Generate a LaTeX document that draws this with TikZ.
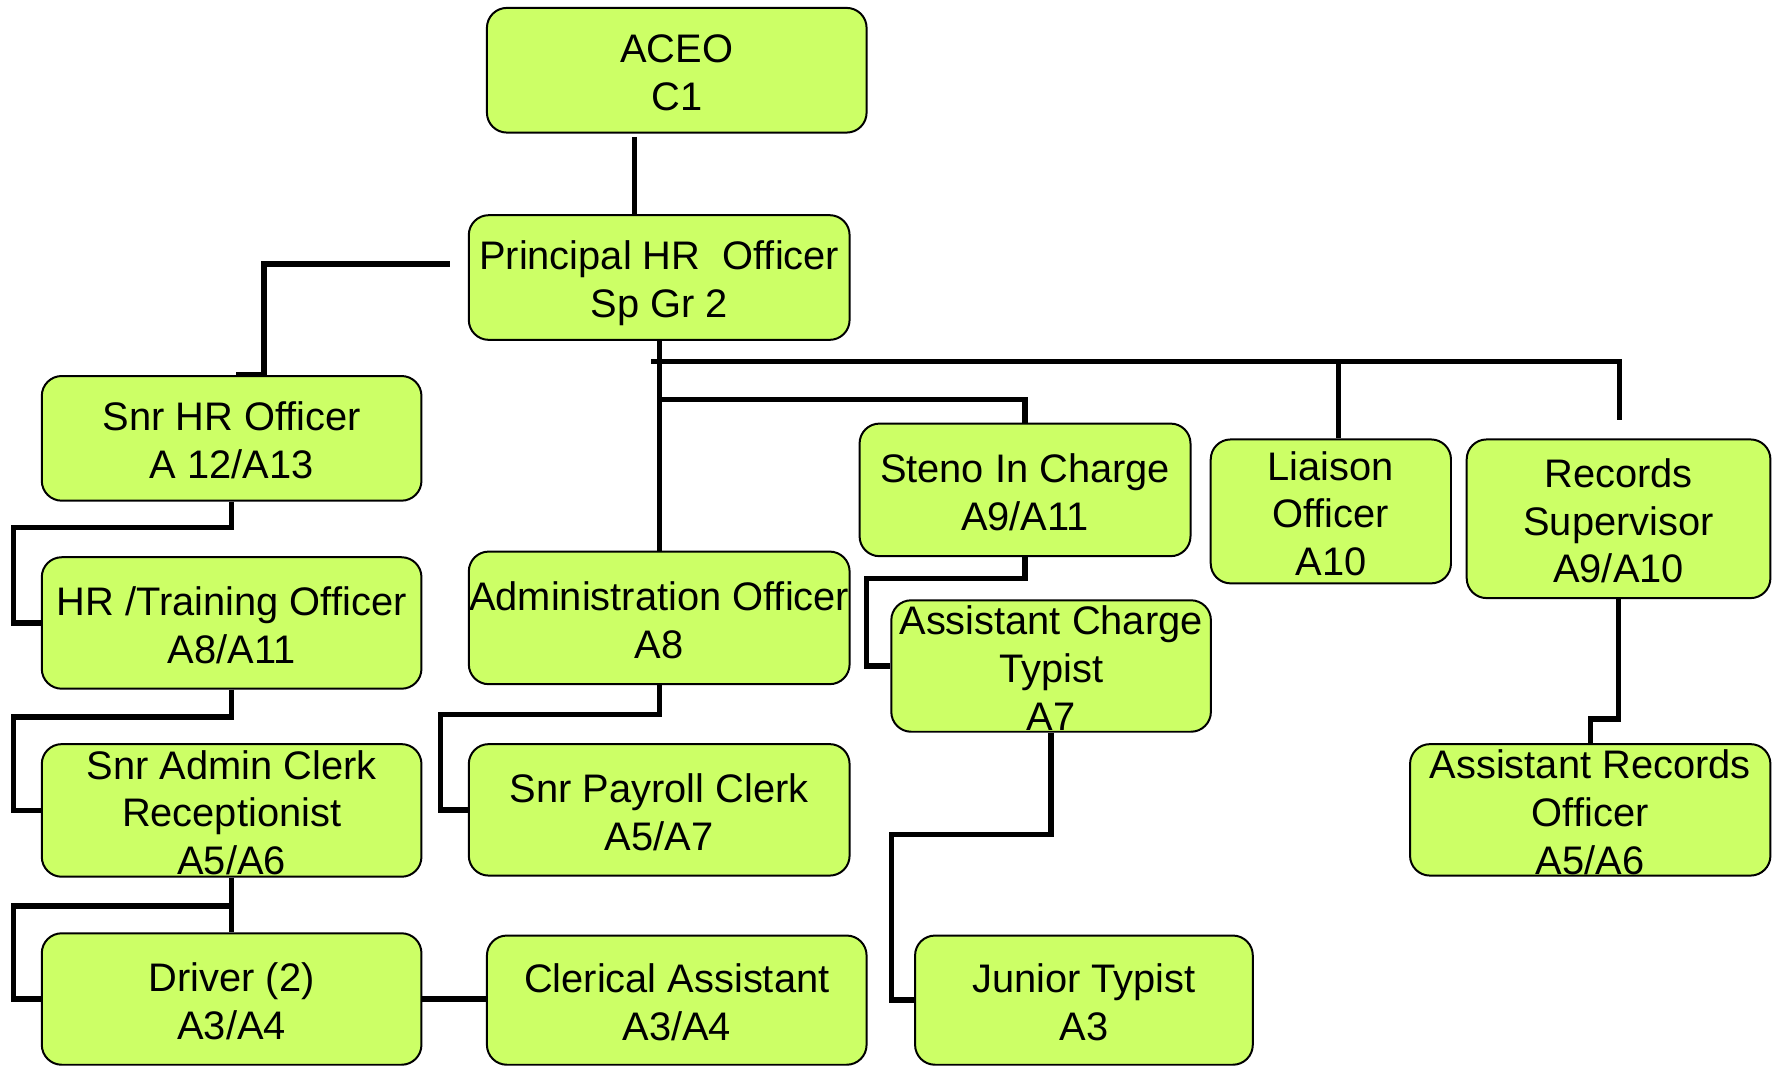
\documentclass[tikz,border=0pt]{standalone}
\usepackage{fontspec}
\setmainfont{Liberation Sans}
\usetikzlibrary{calc,backgrounds}
\definecolor{boxfill}{HTML}{CCFF66}
\newcommand\topst{\rule{0pt}{10pt}}
\newcommand\botst{\rule[-1.75pt]{0pt}{1.75pt}}
\newcommand\topS{\rule{0pt}{8.5pt}}
\newcommand\botS{\rule[-0.25pt]{0pt}{0.25pt}}
\tikzset{
  box/.style={draw=black, line width=0.5pt, fill=boxfill, rounded corners=5pt,
    inner sep=0pt, align=center, font=\fontsize{10}{12}\selectfont},
  conn/.style={draw=black, line width=1.35pt}
}
\begin{document}
\begin{tikzpicture}[x=0.01cm, y=-0.01cm]
\useasboundingbox (0,0) rectangle (1568,941);
% boxes
\node[box, minimum width=3.35cm, minimum height=1.10cm] (aceo) at (597.5,62) {\topst ACEO\\C1\botst};
\node[box, minimum width=3.36cm, minimum height=1.10cm] (phr) at (582,245) {\topst Principal HR\ \ Officer\\Sp Gr 2\botst};
\node[box, minimum width=3.35cm, minimum height=1.10cm] (snrhr) at (204.5,387) {\topst Snr HR Officer\\A 12/A13\botst};
\node[box, minimum width=3.35cm, minimum height=1.16cm] (hrtr) at (204.5,550) {\topst HR /Training Officer\\A8/A11\botst};
\node[box, minimum width=3.35cm, minimum height=1.17cm] (sac) at (204.5,715.5) {\topS Snr Admin Clerk\\Receptionist\\A5/A6\botS};
\node[box, minimum width=3.35cm, minimum height=1.16cm] (driver) at (204.5,882) {\topst Driver (2)\\A3/A4\botst};
\node[box, minimum width=3.35cm, minimum height=1.14cm] (clerical) at (597.5,883) {\topst Clerical Assistant\\A3/A4\botst};
\node[box, minimum width=3.36cm, minimum height=1.17cm] (admin) at (582,545.5) {\topst Administration Officer\\A8\botst};
\node[box, minimum width=3.36cm, minimum height=1.16cm] (payroll) at (582,715) {\topst Snr Payroll Clerk\\A5/A7\botst};
\node[box, minimum width=2.92cm, minimum height=1.17cm] (steno) at (905,432.5) {\topst Steno In Charge\\A9/A11\botst};
\node[box, minimum width=2.82cm, minimum height=1.16cm] (act) at (928,588) {\topS Assistant Charge\\Typist\\A7\botS};
\node[box, minimum width=2.98cm, minimum height=1.14cm] (junior) at (957,883) {\topst Junior Typist\\A3\botst};
\node[box, minimum width=2.12cm, minimum height=1.27cm] (liaison) at (1175,451.5) {\topS Liaison\\Officer\\A10\botS};
\node[box, minimum width=2.68cm, minimum height=1.40cm] (records) at (1429,458) {\topS Records\\Supervisor\\A9/A10\botS};
\node[box, minimum width=3.18cm, minimum height=1.16cm] (asstrec) at (1404,715) {\topS Assistant Records\\Officer\\A5/A6\botS};
% connectors
\begin{scope}[on background layer]
\draw[conn] ($(aceo.south)+(-37.5,3)$) -- ($(phr.north)+(-22,0)$);
\draw[conn] ($(phr.west)+(-16,-12)$) -| ($(snrhr.north)+(28.5,0)$) -- ($(snrhr.north)+(4,0)$);
\draw[conn] (phr.south) -- (admin.north);
\draw[conn] ($(phr.south)+(-7,18)$) -| ($(records.north)+(1,-16)$);
\draw[conn] ($(liaison.north)+(7,-70)$) -- ($(liaison.north)+(7,0)$);
\draw[conn] ($(phr.south)+(0,52)$) -| (steno.north);
\draw[conn] (steno.south) -- ++(0,19) -| ($(act.west)+(-21,0)$) -- (act.west);
\draw[conn] (act.south) -- ++(0,90) -| ($(junior.west)+(-20,0)$) -- (junior.west);
\draw[conn] (records.south) -- ++(0,106) -| (asstrec.north);
\draw[conn] (snrhr.south) -- ++(0,23) -| ($(hrtr.west)+(-24,0)$) -- (hrtr.west);
\draw[conn] (hrtr.south) -- ++(0,24) -| ($(sac.west)+(-24,0)$) -- (sac.west);
\draw[conn] (sac.south) -- (driver.north);
\draw[conn] ($(sac.south)+(0,25)$) -| ($(driver.west)+(-24,0)$) -- (driver.west);
\draw[conn] (driver.east) -- (driver.east -| clerical.west);
\draw[conn] (admin.south) -- ++(0,26) -| ($(payroll.west)+(-24,0)$) -- (payroll.west);
\end{scope}
\end{tikzpicture}
\end{document}
